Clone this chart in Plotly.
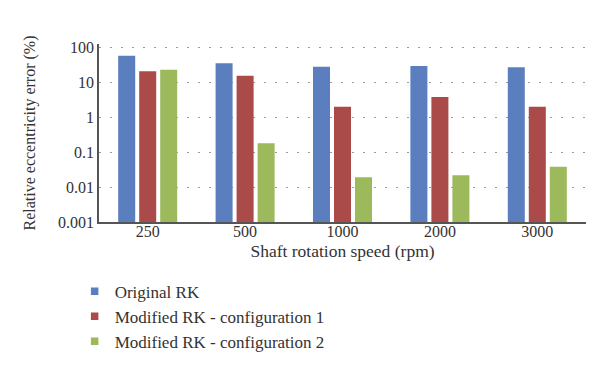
import plotly.graph_objects as go

categories = ["250", "500", "1000", "2000", "3000"]
original_rk = [58, 35.5, 28, 29.5, 27]
modified_rk_1 = [21, 15.4, 2.0, 3.8, 2.0]
modified_rk_2 = [23, 0.18, 0.019, 0.022, 0.038]
series_names = ["Original RK", "Modified RK - configuration 1", "Modified RK - configuration 2"]
colors = ["#5B7EBF", "#AA4B49", "#9CB95C"]
y_tick_vals = [0.001, 0.01, 0.1, 1, 10, 100]
y_tick_text = ["0.001", "0.01", "0.1", "1", "10", "100"]

FONT = "Liberation Serif"
fig = go.Figure()
for name, vals, col in zip(series_names, [original_rk, modified_rk_1, modified_rk_2], colors):
    fig.add_trace(go.Bar(x=categories, y=vals, name=name, marker=dict(color=col, line=dict(width=0)),
                         showlegend=False))
for i, (name, col) in enumerate(zip(series_names, colors)):
    fig.add_trace(go.Scatter(x=[None], y=[None], mode="markers", name=name,
                             marker=dict(symbol="square", size=7.5, color=col)))

fig.update_layout(
    width=600, height=373,
    margin=dict(l=91, r=22, t=36, b=159, autoexpand=False),
    paper_bgcolor="white", plot_bgcolor="white",
    barmode="group", bargap=0.353, bargroupgap=0.19,
    font=dict(family=FONT, size=16, color="#333333"),
    legend=dict(x=-0.05, y=-0.29, xanchor="left", yanchor="top",
                traceorder="normal", font=dict(size=17)),
)
fig.update_xaxes(showline=True, linecolor="#555555", linewidth=1.5, ticks="", showgrid=False,
                 ticklabelstandoff=-6,
                 title=dict(text="Shaft rotation speed (rpm)", standoff=6, font=dict(size=17.5)),
                 tickfont=dict(size=16))
fig.update_yaxes(type="log", range=[-3, 2.1], tickvals=y_tick_vals, ticktext=y_tick_text,
                 showline=True, linecolor="#555555", linewidth=1.5, ticks="",
                 showgrid=True, gridcolor="#9a9a9a", griddash="2px,9px", gridwidth=1,
                 title=dict(text="Relative eccentricity error (%)", standoff=18, font=dict(size=16)),
                 tickfont=dict(size=16))
fig.write_html("out.html")
